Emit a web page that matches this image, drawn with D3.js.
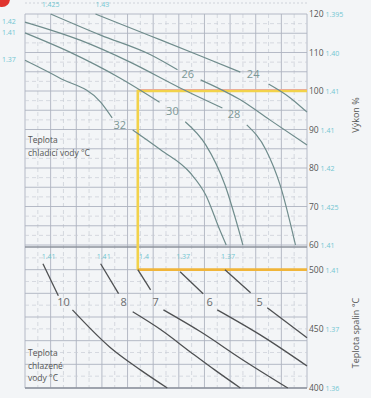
<!DOCTYPE html>
<meta charset="utf-8">
<head>
  <meta charset="utf-8">
  <script src="https://d3js.org/d3.v7.min.js"></script>
  <style>
    body { margin: 0; background: #f3f5f7; }
    text { font-family: "Open Sans", sans-serif; }
  </style>
</head>
<body>
  <svg width="371" height="398"></svg>
  <script>
    // upper chart: power % vs cooling water temp, lower: flue gas temp vs chilled water temp
    var powerTicks = [120, 110, 100, 90, 80, 70, 60];
    var powerCoef = ["1.395", "1.40", "1.41", "1.41", "1.42", "1.425", "1.41"];
    var flueTicks = [500, 450, 400];
    var flueCoef = ["1.41", "1.37", "1.36"];

    var coolLabels = [24, 26, 28, 30, 32];
    // each curve = [segment before label, segment after label], points are [ratio, power %]
    var coolCurves = [
      [[[5.5, 120], [9.8, 114.3], [13.7, 109.1], [16.8, 104.9]], [[19.0, 101.8], [20.7, 98.2], [22, 94.5]]],
      [[[2.0, 120], [5.9, 114.5], [9.8, 109.4], [11.9, 105.5]], [[13.7, 102.9], [16.8, 97.7], [19.1, 92.5], [22, 86]]],
      [[[0, 117.9], [4.3, 113.2], [8.2, 107.5], [12.1, 100.8], [15.4, 95.6]], [[17.3, 91.2], [18.8, 84.7], [19.9, 75.6], [21.1, 60]]],
      [[[0, 115.1], [3.5, 110.1], [7.4, 103.4], [10.5, 97.1]], [[12.5, 92], [14.1, 86], [15.6, 75.6], [17.0, 60]]],
      [[[0, 108], [2.7, 103.4], [5.9, 97.1], [6.8, 93]], [[8.4, 89.9], [10.6, 84.7], [12.9, 78.7], [14.1, 73], [15.2, 63.9], [15.7, 60]]]
    ];
    var coolLabelPos = [[17.8, 104.2], [12.7, 104.2], [16.3, 93.8], [11.5, 94.5], [7.4, 90.9]];

    var chillLabels = [10, 8, 7, 6, 5];
    // points are [ratio, flue gas °C]
    var chillCurves = [
      [[[1.4, 505], [2.6, 478]], [[3.7, 466], [6.6, 434.7], [9.0, 415.3], [11.1, 400]]],
      [[[5.9, 505], [7.3, 479.7]], [[8.4, 464.4], [10.6, 449.2], [12.9, 430.5], [14.8, 415.3], [16.8, 400]]],
      [[[8.8, 500], [9.8, 483]], [[10.8, 466], [13.7, 447.5], [17.0, 423.7], [20.5, 400]]],
      [[[12.1, 498.3], [13.9, 479.7]], [[15.0, 466], [18.6, 443.2], [22, 418.6]]],
      [[[15.6, 500], [17.6, 480.5]], [[18.9, 467.8], [22, 442.4]]]
    ];
    var chillLabelX = [3.0, 7.7, 10.2, 14.4, 18.3];
    var chillLabelY = 472;

    var topCoef = [[1.3, "1.425"], [5.5, "1.43"]];
    var leftCoef = [[117.9, "1.42"], [115.1, "1.41"], [108, "1.37"]];
    var midCoef = [[1.3, "1.41"], [5.6, "1.41"], [8.9, "1.4"], [11.8, "1.37"], [15.3, "1.37"]];

    var coolTitle = ["Teplota", "chladicí vody °C"];
    var chillTitle = ["Teplota", "chlazené", "vody °C"];

    var refRatio = 8.8, refPower = 100, refFlue = 500;

    var svg = d3.select("svg");
    svg.append("rect").attr("width", 371).attr("height", 398).attr("fill", "#f3f5f7");

    var x = d3.scaleLinear().domain([0, 22]).range([25, 307]);
    var yUp = d3.scaleLinear().domain([60, 120]).range([245, 14]);
    var yLo = d3.scaleLinear().domain([400, 520]).range([388, 246]);

    // grid
    var grid = svg.append("g");
    grid.selectAll("line.v").data(d3.range(0, 23)).enter().append("line")
      .attr("x1", d => x(d)).attr("x2", d => x(d))
      .attr("y1", yUp(120)).attr("y2", yLo(400))
      .attr("stroke", d => d % 2 == 0 ? "#aeb3bf" : "#c9cdd6")
      .attr("stroke-width", d => d % 2 == 0 ? 0.9 : 0.7)
      .attr("stroke-dasharray", d => d % 2 == 0 ? null : "4,3");
    grid.selectAll("line.hu").data(d3.range(60, 120.1, 2.5)).enter().append("line")
      .attr("x1", x(0)).attr("x2", x(22))
      .attr("y1", d => yUp(d)).attr("y2", d => yUp(d))
      .attr("stroke", d => d % 5 == 0 ? "#aeb3bf" : "#c9cdd6")
      .attr("stroke-width", d => d % 5 == 0 ? 0.9 : 0.7)
      .attr("stroke-dasharray", d => d % 5 == 0 ? null : "4,3");
    grid.selectAll("line.hl").data(d3.range(400, 520, 10)).enter().append("line")
      .attr("x1", x(0)).attr("x2", x(22))
      .attr("y1", d => yLo(d)).attr("y2", d => yLo(d))
      .attr("stroke", d => d % 20 == 0 ? "#aeb3bf" : "#c9cdd6")
      .attr("stroke-width", d => d % 20 == 0 ? 0.9 : 0.7)
      .attr("stroke-dasharray", d => d % 20 == 0 ? null : "4,3");
    // heavier base lines
    [yUp(60) + 2, yLo(400)].forEach(function(yy) {
      svg.append("line").attr("x1", x(0)).attr("x2", x(22)).attr("y1", yy).attr("y2", yy)
        .attr("stroke", "#8d929c").attr("stroke-width", 1.4);
    });
    svg.append("line").attr("x1", x(0)).attr("x2", x(22)).attr("y1", 3).attr("y2", 3)
      .attr("stroke", "#cfd3da").attr("stroke-dasharray", "2,2");

    // reference (yellow) lines
    svg.append("line").attr("x1", x(refRatio)).attr("x2", x(22))
      .attr("y1", yUp(refPower) - 1.5).attr("y2", yUp(refPower) - 1.5)
      .attr("stroke", "#e9a0b0").attr("stroke-width", 1);
    svg.append("path")
      .attr("d", "M" + x(22) + "," + yUp(refPower) + "H" + x(refRatio) + "V" + yLo(refFlue))
      .attr("fill", "none").attr("stroke", "#f2d24a").attr("stroke-width", 2.6);
    svg.append("line").attr("x1", x(refRatio)).attr("x2", x(22))
      .attr("y1", yLo(refFlue)).attr("y2", yLo(refFlue))
      .attr("stroke", "#f0b53a").attr("stroke-width", 2.6);

    // curves
    var lineUp = d3.line().x(d => x(d[0])).y(d => yUp(d[1])).curve(d3.curveMonotoneX);
    var lineLo = d3.line().x(d => x(d[0])).y(d => yLo(d[1])).curve(d3.curveMonotoneX);

    coolCurves.forEach(function(c) {
      c.forEach(function(seg) {
        svg.append("path").attr("d", lineUp(seg)).attr("fill", "none")
          .attr("stroke", "#6f8c8c").attr("stroke-width", 1.2);
      });
    });
    chillCurves.forEach(function(c) {
      c.forEach(function(seg) {
        svg.append("path").attr("d", lineLo(seg)).attr("fill", "none")
          .attr("stroke", "#4e5052").attr("stroke-width", 1.3);
      });
    });

    svg.selectAll("text.cl").data(coolLabels).enter().append("text")
      .attr("x", (d, i) => x(coolLabelPos[i][0])).attr("y", (d, i) => yUp(coolLabelPos[i][1]))
      .attr("text-anchor", "middle").attr("dominant-baseline", "middle")
      .attr("font-size", 11).attr("fill", "#7b9896").text(d => d);
    svg.selectAll("text.hl").data(chillLabels).enter().append("text")
      .attr("x", (d, i) => x(chillLabelX[i])).attr("y", yLo(chillLabelY))
      .attr("text-anchor", "middle").attr("dominant-baseline", "middle")
      .attr("font-size", 11).attr("fill", "#6a6c6e").text(d => d);

    // cyan coefficients
    var cyan = "#72c6d2";
    svg.selectAll("text.tc").data(topCoef).enter().append("text")
      .attr("x", d => x(d[0])).attr("y", 7).attr("font-size", 7).attr("fill", cyan).text(d => d[1]);
    svg.selectAll("text.lc").data(leftCoef).enter().append("text")
      .attr("x", 2).attr("y", d => yUp(d[0]) + 2).attr("font-size", 7).attr("fill", cyan).text(d => d[1]);
    svg.selectAll("text.mc").data(midCoef).enter().append("text")
      .attr("x", d => x(d[0])).attr("y", yLo(509)).attr("font-size", 7).attr("fill", cyan).text(d => d[1]);

    // right axes
    var axUp = svg.append("g").attr("transform", "translate(" + (x(22) + 2) + ",0)")
      .call(d3.axisRight(yUp).tickValues(powerTicks).tickSize(0).tickPadding(0));
    var axLo = svg.append("g").attr("transform", "translate(" + (x(22) + 2) + ",0)")
      .call(d3.axisRight(yLo).tickValues(flueTicks).tickSize(0).tickPadding(0));
    [[axUp, powerTicks, powerCoef], [axLo, flueTicks, flueCoef]].forEach(function(a) {
      a[0].select(".domain").remove();
      a[0].selectAll(".tick text")
        .attr("font-family", "Open Sans").attr("font-size", 8.5).attr("fill", "#555")
        .each(function(d) {
          var i = a[1].indexOf(d);
          d3.select(this).append("tspan").attr("fill", cyan).attr("font-size", 7).text(" " + a[2][i]);
        });
    });

    svg.append("text").attr("transform", "translate(359,115) rotate(-90)")
      .attr("text-anchor", "middle").attr("font-size", 9).attr("fill", "#555").text("Výkon %");
    svg.append("text").attr("transform", "translate(359,333) rotate(-90)")
      .attr("text-anchor", "middle").attr("font-size", 9).attr("fill", "#555").text("Teplota spalin °C");

    svg.selectAll("text.t1").data(coolTitle).enter().append("text")
      .attr("x", 28).attr("y", (d, i) => 143 + i * 12.5)
      .attr("font-size", 8.5).attr("fill", "#555").text(d => d);
    svg.selectAll("text.t2").data(chillTitle).enter().append("text")
      .attr("x", 28).attr("y", (d, i) => 356 + i * 12.5)
      .attr("font-size", 8.5).attr("fill", "#555").text(d => d);

    // red corner mark
    svg.append("circle").attr("cx", 2).attr("cy", -1).attr("r", 8).attr("fill", "#e0342f");
  </script>
</body>
</html>
